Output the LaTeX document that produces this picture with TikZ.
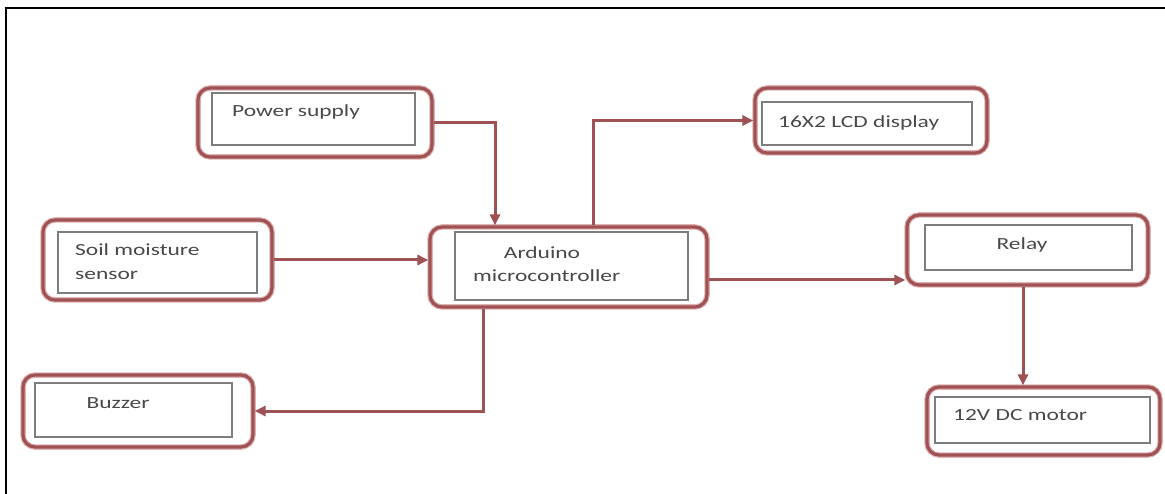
\documentclass[tikz,border=0pt]{standalone}
\usepackage{fontspec}
\setmainfont{Carlito}
\usetikzlibrary{arrows.meta}
\definecolor{boxred}{RGB}{158,82,84}
\definecolor{halo}{RGB}{226,178,178}
\definecolor{innergray}{RGB}{125,125,125}
\definecolor{txtgray}{RGB}{72,72,72}
\newcommand{\stxt}[1]{\scalebox{1.38}[1]{#1}}
\tikzset{
  outerbox/.style={draw=boxred, line width=3.2pt, rounded corners=12pt, inner sep=0pt,
    preaction={draw=halo, line width=5.5pt}},
  innerbox/.style={draw=innergray, line width=1.3pt, inner sep=0pt},
  lbl/.style={text=txtgray, font=\fontsize{17}{20}\selectfont, inner sep=0pt},
  arr/.style={draw=boxred, line width=3pt, -{Triangle[length=11pt,width=10pt]}}
}
\begin{document}
\begin{tikzpicture}[x=1pt,y=-1pt]
\useasboundingbox (0,0) rectangle (1165,494);
\draw[black, line width=2pt] (6,494) -- (6,8) -- (1165,8);

% outer boxes
\node[outerbox, minimum width=234pt, minimum height=69pt] (ps) at (315,122.5) {};
\node[outerbox, minimum width=229pt, minimum height=80pt] (soil) at (157.5,260) {};
\node[outerbox, minimum width=277pt, minimum height=80pt] (ard) at (568.5,267) {};
\node[outerbox, minimum width=232pt, minimum height=65pt] (lcd) at (871,120.5) {};
\node[outerbox, minimum width=241pt, minimum height=70pt] (relay) at (1027.5,250) {};
\node[outerbox, minimum width=233pt, minimum height=68pt] (motor) at (1043.5,421) {};
\node[outerbox, minimum width=230pt, minimum height=72pt] (buzz) at (138,411) {};

% inner boxes
\node[innerbox, minimum width=203pt, minimum height=52pt] (psi) at (313.5,119) {};
\node[innerbox, minimum width=199pt, minimum height=61pt] (soili) at (157.5,262.5) {};
\node[innerbox, minimum width=233pt, minimum height=68pt] (ardi) at (571.5,266) {};
\node[innerbox, minimum width=210pt, minimum height=43pt] (lcdi) at (867,123.5) {};
\node[innerbox, minimum width=207pt, minimum height=45pt] (relayi) at (1028.5,247.5) {};
\node[innerbox, minimum width=215pt, minimum height=46pt] (motori) at (1042.5,420) {};
\node[innerbox, minimum width=197pt, minimum height=54pt] (buzzi) at (133.5,410) {};

% labels
\node[lbl, anchor=west] (pst) at (232,112) {\stxt{Power supply}};
\node[lbl, anchor=west] (soilt1) at (75,250) {\stxt{Soil moisture}};
\node[lbl, anchor=west] (soilt2) at (75,275) {\stxt{sensor}};
\node[lbl] (ardt1) at (542,253) {\stxt{Arduino}};
\node[lbl, anchor=west] (ardt2) at (473,276) {\stxt{microcontroller}};
\node[lbl, anchor=west] (lcdt) at (778,123) {\stxt{16X2 LCD display}};
\node[lbl] (relayt) at (1022,245) {\stxt{Relay}};
\node[lbl, anchor=west] (motort) at (953,415) {\stxt{12V DC motor}};
\node[lbl] (buzzt) at (118,403) {\stxt{Buzzer}};

% connectors
\draw[arr] (ps.east) -| ([xshift=-73.5pt]ard.north);
\draw[arr] ([xshift=24.5pt]ard.north) |- (lcd.west);
\draw[arr] (soil.east) -- (soil.east -| ard.west);
\draw[arr] ([yshift=-13pt]ard.east) -- ([yshift=-13pt]ard.east -| relay.west);
\draw[arr] ([xshift=-4.5pt]relay.south) -- ([xshift=-4.5pt]relay.south |- motor.north);
\draw[arr] ([xshift=-85.5pt]ard.south) |- (buzz.east);
\end{tikzpicture}
\end{document}
